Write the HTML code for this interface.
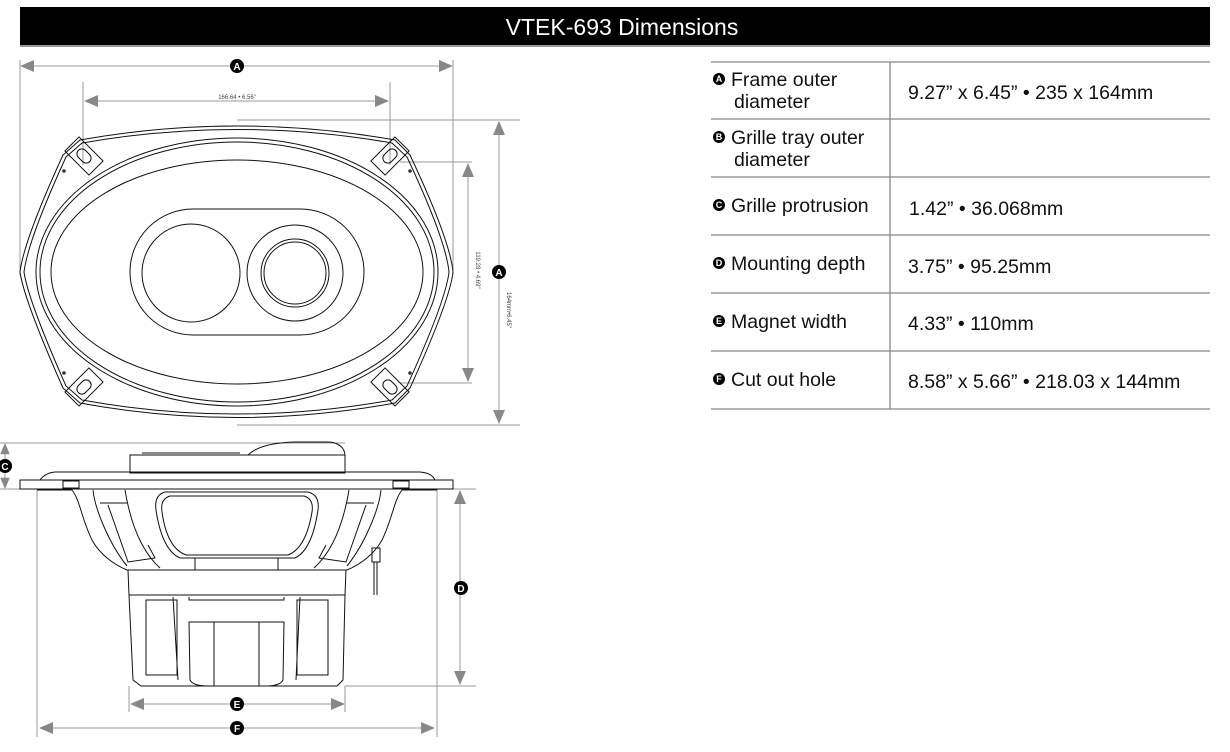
<!DOCTYPE html>
<html><head><meta charset="utf-8"><style>
html,body{margin:0;padding:0;background:#fff;}
svg{display:block;}
text{font-family:"Liberation Sans",Arial,sans-serif;}
</style></head><body>
<svg width="1230" height="752" viewBox="0 0 1230 752" xmlns="http://www.w3.org/2000/svg">
<defs>
<g id="ah"><polygon points="0,0 14,-6 14,6" fill="#888"/></g>
</defs>
<!-- header -->
<rect x="20" y="7" width="1190" height="39" fill="#000"/>
<rect x="20" y="45" width="1190" height="2" fill="#999"/>
<text x="622" y="35" fill="#fff" font-size="23" text-anchor="middle">VTEK-693 Dimensions</text>

<!-- table -->
<g stroke="#888" stroke-width="1.3">
<line x1="711" y1="62" x2="1210" y2="62"/>
<line x1="711" y1="119" x2="1210" y2="119"/>
<line x1="711" y1="177" x2="1210" y2="177"/>
<line x1="711" y1="235" x2="1210" y2="235"/>
<line x1="711" y1="293" x2="1210" y2="293"/>
<line x1="711" y1="351" x2="1210" y2="351"/>
<line x1="711" y1="409" x2="1210" y2="409"/>
<line x1="890" y1="62" x2="890" y2="409"/>
</g>
<g font-size="19.5" fill="#111">
<g fill="#000"><circle cx="719" cy="79" r="6"/><circle cx="719" cy="137" r="6"/><circle cx="719" cy="205" r="6"/><circle cx="719" cy="263" r="6"/><circle cx="719" cy="321" r="6"/><circle cx="719" cy="379" r="6"/></g>
<g font-size="9" fill="#fff" text-anchor="middle" font-weight="bold">
<text x="719" y="82">A</text><text x="719" y="140">B</text><text x="719" y="208">C</text><text x="719" y="266">D</text><text x="719" y="324">E</text><text x="719" y="382">F</text></g>
<text x="731" y="86">Frame outer</text><text x="734" y="108">diameter</text>
<text x="731" y="144">Grille tray outer</text><text x="734" y="166">diameter</text>
<text x="731" y="212">Grille protrusion</text>
<text x="731" y="270">Mounting depth</text>
<text x="731" y="328">Magnet width</text>
<text x="731" y="386">Cut out hole</text>
<text x="908" y="99">9.27” x 6.45” • 235 x 164mm</text>
<text x="909" y="215">1.42” • 36.068mm</text>
<text x="908" y="273">3.75” • 95.25mm</text>
<text x="908" y="330">4.33” • 110mm</text>
<text x="908" y="388">8.58” x 5.66” • 218.03 x 144mm</text>
</g>

<!-- TOP VIEW dimension lines -->
<g stroke="#999" stroke-width="1" fill="none">
<line x1="20" y1="60" x2="20" y2="275"/>
<line x1="453" y1="60" x2="453" y2="275"/>
<line x1="22" y1="66" x2="451" y2="66"/>
<line x1="83" y1="82" x2="83" y2="165"/>
<line x1="390" y1="82" x2="390" y2="165"/>
<line x1="85" y1="101" x2="388" y2="101"/>
<line x1="400" y1="162" x2="472" y2="162"/>
<line x1="400" y1="383" x2="472" y2="383"/>
<line x1="468" y1="164" x2="468" y2="381"/>
<line x1="237" y1="120" x2="520" y2="120"/>
<line x1="237" y1="425" x2="520" y2="425"/>
<line x1="499" y1="122" x2="499" y2="423"/>
</g>
<use href="#ah" x="20" y="66"/>
<use href="#ah" transform="translate(453,66) rotate(180)"/>
<use href="#ah" x="84" y="101"/>
<use href="#ah" transform="translate(389,101) rotate(180)"/>
<use href="#ah" transform="translate(468,163) rotate(90)"/>
<use href="#ah" transform="translate(468,382) rotate(-90)"/>
<use href="#ah" transform="translate(499,121) rotate(90)"/>
<use href="#ah" transform="translate(499,424) rotate(-90)"/>
<circle cx="237" cy="66" r="7" fill="#000"/><text x="237" y="70" font-size="10" fill="#fff" text-anchor="middle" font-weight="bold">A</text>
<circle cx="499" cy="272" r="7" fill="#000"/><text x="499" y="276" font-size="10" fill="#fff" text-anchor="middle" font-weight="bold">A</text>
<text x="237" y="99" font-size="6" fill="#444" text-anchor="middle">166.64 • 6.56"</text>
<text transform="translate(476,270) rotate(90)" font-size="6" fill="#444" text-anchor="middle">119.28 • 4.69"</text>
<text transform="translate(507,310) rotate(90)" font-size="6" fill="#444" text-anchor="middle">164mm•6.45"</text>

<!-- TOP VIEW drawing -->
<g stroke="#111" stroke-width="1" fill="none">
<path d="M80,140 Q237,112 395,140 L410,155 Q450,240 453,272 Q450,300 410,388 L395,403 Q237,432 80,403 L63,388 Q24,300 20,272 Q24,240 63,155 Z"/>
<path d="M82,143 Q237,116 392,143 L407,157 Q446,240 449,272 Q446,300 407,386 L392,400 Q237,428 82,400 L66,386 Q28,300 24,272 Q28,240 66,157 Z"/>
<ellipse cx="237" cy="272" rx="201" ry="134"/>
<ellipse cx="237" cy="272" rx="197" ry="130"/>
<ellipse cx="237" cy="272" rx="186" ry="112"/>
<path d="M193,209 L300,209 A64,63 0 0 1 300,335 L193,335 A63,63 0 0 1 193,209 Z"/>
<circle cx="191" cy="273" r="49"/>
<circle cx="295" cy="273" r="48"/>
<circle cx="295" cy="273" r="34"/>
<circle cx="295" cy="273" r="31"/>
<g transform="translate(84,156) rotate(45)"><rect x="-17" y="-10" width="34" height="20"/><rect x="-8" y="-5" width="16" height="10" rx="5"/></g>
<g transform="translate(390,156) rotate(-45)"><rect x="-17" y="-10" width="34" height="20"/><rect x="-8" y="-5" width="16" height="10" rx="5"/></g>
<g transform="translate(84,387) rotate(-45)"><rect x="-17" y="-10" width="34" height="20"/><rect x="-8" y="-5" width="16" height="10" rx="5"/></g>
<g transform="translate(390,387) rotate(45)"><rect x="-17" y="-10" width="34" height="20"/><rect x="-8" y="-5" width="16" height="10" rx="5"/></g>
</g>
<g fill="#333"><circle cx="64" cy="171" r="1.8"/><circle cx="410" cy="171" r="1.8"/><circle cx="64" cy="373" r="1.8"/><circle cx="410" cy="373" r="1.8"/></g>

<!-- SIDE VIEW dims -->
<g stroke="#999" stroke-width="1" fill="none">
<line x1="0" y1="443" x2="345" y2="443"/>
<line x1="0" y1="489" x2="20" y2="489"/>
<line x1="5" y1="450" x2="5" y2="482"/>
<line x1="345" y1="489" x2="476" y2="489"/>
<line x1="345" y1="686" x2="476" y2="686"/>
<line x1="460" y1="491" x2="460" y2="684"/>
<line x1="37" y1="490" x2="37" y2="737"/>
<line x1="437" y1="489" x2="437" y2="737"/>
<line x1="129" y1="686" x2="129" y2="712"/>
<line x1="345" y1="686" x2="345" y2="712"/>
<line x1="131" y1="704" x2="343" y2="704"/>
<line x1="40" y1="728" x2="434" y2="728"/>
</g>
<use href="#ah" transform="translate(5,443) rotate(90) scale(0.8)"/>
<use href="#ah" transform="translate(5,489) rotate(-90) scale(0.8)"/>
<use href="#ah" transform="translate(460,490) rotate(90)"/>
<use href="#ah" transform="translate(460,685) rotate(-90)"/>
<use href="#ah" x="130" y="704"/>
<use href="#ah" transform="translate(345,704) rotate(180)"/>
<use href="#ah" x="39" y="728"/>
<use href="#ah" transform="translate(435,728) rotate(180)"/>
<g fill="#000"><circle cx="5" cy="466" r="7"/><circle cx="461" cy="588" r="7"/><circle cx="237" cy="704" r="7"/><circle cx="237" cy="728" r="7"/></g>
<g font-size="10" fill="#fff" text-anchor="middle" font-weight="bold">
<text x="5" y="470">C</text><text x="461" y="592">D</text><text x="237" y="708">E</text><text x="237" y="732">F</text></g>

<!-- SIDE VIEW drawing -->
<g stroke="#111" stroke-width="1" fill="none">
<rect x="130" y="455" width="215" height="18"/>
<line x1="142" y1="453" x2="240" y2="453"/>
<path d="M248,455 Q260,443 295,442 L330,442 Q344,444 345,455"/>
<path d="M40,480 Q45,473 55,472 L420,472 Q432,473 435,480"/>
<rect x="20" y="480" width="433" height="9"/>
<rect x="63" y="481" width="16" height="7"/><rect x="393" y="481" width="16" height="7"/>
<path d="M37,490 L72,490 C80,500 82,520 92,540 C100,555 115,565 127,570"/>
<path d="M437,490 L402,490 C394,500 392,520 382,540 C374,555 359,565 347,570"/>
<path d="M93,490 C95,510 110,545 127,566 M125,490 C130,520 140,550 160,568"/>
<path d="M381,490 C379,510 364,545 347,566 M349,490 C344,520 334,550 314,568"/>
<path d="M100,503 L128,503 M108,505 L128,562 L155,558 L148,545"/>
<path d="M374,503 L346,503 M366,505 L346,562 L319,558 L326,545"/>
<path d="M165,492 L308,492 Q320,495 318,510 Q312,550 295,558 L180,558 Q162,550 156,510 Q154,495 165,492 Z"/>
<path d="M170,496 L304,496 Q314,499 312,512 Q306,548 288,555 L186,555 Q167,548 162,512 Q160,499 170,496 Z"/>
<rect x="195" y="558" width="83" height="12"/>
<line x1="127" y1="570" x2="347" y2="570"/>
<path d="M128,570 L129,595 L133,680 L141,686 L337,686 L343,680 L345,595 L346,570"/>
<line x1="129" y1="595" x2="345" y2="595"/>
<rect x="146" y="600" width="31" height="75"/>
<rect x="297" y="600" width="31" height="75"/>
<path d="M173,597 L178,680 M189,597 L189,600 L284,600 L284,597 M300,597 L296,680"/>
<path d="M189,622 L284,622 L283,680 Q280,686 266,686 L208,686 Q193,686 190,680 Z"/>
<line x1="214" y1="622" x2="214" y2="686"/><line x1="259" y1="622" x2="259" y2="686"/>
<rect x="372" y="548" width="8" height="14"/>
<line x1="374" y1="562" x2="374" y2="595"/><line x1="377" y1="562" x2="377" y2="595"/>
</g>
</svg>
</body></html>
